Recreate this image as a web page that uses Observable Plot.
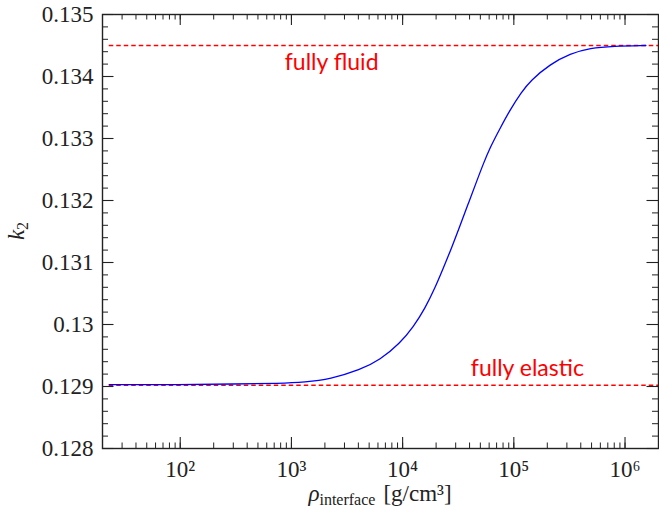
<!DOCTYPE html>
<html>
<head>
<meta charset="utf-8">
<script src="https://cdn.jsdelivr.net/npm/d3@7"></script>
<script src="https://cdn.jsdelivr.net/npm/@observablehq/plot@0.6"></script>
<style>
  html, body { margin: 0; padding: 0; background: white; }
</style>
</head>
<body>
<div id="chart"></div>
<script>
// ---- data ----
const rho = [23, 100, 300, 793, 1320, 2234, 4159, 6266, 9487, 12480, 15890, 19550, 23220, 27620, 32800, 38930, 46330, 53110, 60960, 74970, 92260, 117500, 140300, 212400, 321400, 486000, 783000, 1540000];
const k2  = [0.12903, 0.12903, 0.12904, 0.12905, 0.12907, 0.12912, 0.12927, 0.12943, 0.12970, 0.12996, 0.13026, 0.13059, 0.13091, 0.13124, 0.13159, 0.13195, 0.13231, 0.13259, 0.13285, 0.13316, 0.13346, 0.13375, 0.13393, 0.13420, 0.13437, 0.13446, 0.13449, 0.13450];
const kFluid = 0.1345;
const kElastic = 0.12902;
const limitLabels = ["fully fluid", "fully elastic"];
const limitLabelX = [2300, 132400];
const limitLabelY = [0.13422, 0.12929];
const yMajor = [0.128, 0.129, 0.130, 0.131, 0.132, 0.133, 0.134, 0.135];
const xMajor = [1e2, 1e3, 1e4, 1e5, 1e6];
const xDomain = [20, 2e6];
const yDomain = [0.128, 0.135];

// tick helpers
const yMinor = d3.range(0, 36).map(i => +(0.128 + i * 0.0002).toFixed(5));
const xMinor = [];
for (let e = 1; e <= 6; e++) for (let m = 1; m <= 9; m++) {
  const v = m * Math.pow(10, e);
  if (v >= xDomain[0] && v <= xDomain[1]) xMinor.push(v);
}
const sup = {"0":"⁰","1":"¹","2":"²","3":"³","4":"⁴","5":"⁵","6":"⁶","7":"⁷","8":"⁸","9":"⁹"};
const fmtPow = d => "10" + String(Math.round(Math.log10(d))).split("").map(c => sup[c]).join("");

const curve = rho.map((r, i) => ({r, k: k2[i]}));
const labels = limitLabels.map((t, i) => ({t, x: limitLabelX[i], y: limitLabelY[i]}));

const W = 659, H = 518;
const mL = 102, mR = 1, mT = 14, mB = 70;
const pw = W - mL - mR, ph = H - mT - mB;
const ink = "#222";
const serif = "'Liberation Serif'";

const chart = Plot.plot({
  width: W, height: H,
  marginLeft: mL, marginRight: mR, marginTop: mT, marginBottom: mB,
  x: {type: "log", domain: xDomain},
  y: {domain: yDomain},
  style: {fontSize: "22px", color: ink, background: "white"},
  marks: [
    Plot.ruleY([kFluid], {x1: 23, x2: 2e6, stroke: "red", strokeWidth: 1.3, strokeDasharray: "4.5,3"}),
    Plot.ruleY([kElastic], {x1: 23, x2: 2e6, stroke: "red", strokeWidth: 1.3, strokeDasharray: "4.5,3"}),
    Plot.line(curve, {x: "r", y: "k", stroke: "#0000ff", strokeWidth: 1.3, curve: "basis"}),
    Plot.text(labels, {x: "x", y: "y", text: "t", fill: "red", fontSize: 23, textAnchor: "middle"}),
    // inward ticks
    Plot.tickY(yMinor, {y: d => d, insetRight: pw - 6, stroke: ink, strokeWidth: 1}),
    Plot.tickY(yMinor, {y: d => d, insetLeft: pw - 6, stroke: ink, strokeWidth: 1}),
    Plot.tickY(yMajor, {y: d => d, insetRight: pw - 11.5, stroke: ink, strokeWidth: 1.1}),
    Plot.tickY(yMajor, {y: d => d, insetLeft: pw - 11.5, stroke: ink, strokeWidth: 1.1}),
    Plot.tickX(xMinor, {x: d => d, insetTop: ph - 5.5, stroke: ink, strokeWidth: 1}),
    Plot.tickX(xMinor, {x: d => d, insetBottom: ph - 5.5, stroke: ink, strokeWidth: 1}),
    Plot.tickX(xMajor, {x: d => d, insetTop: ph - 11, stroke: ink, strokeWidth: 1.1}),
    Plot.tickX(xMajor, {x: d => d, insetBottom: ph - 11, stroke: ink, strokeWidth: 1.1}),
    Plot.frame({stroke: ink, strokeWidth: 1.4}),
    Plot.axisY(yMajor, {tickSize: 0, tickPadding: 9, tickFormat: d => String(+d.toFixed(3)), label: null, fontSize: 23}),
    Plot.axisX(xMajor, {tickSize: 0, tickPadding: 12, tickFormat: fmtPow, label: null, fontSize: 23})
  ]
});

document.getElementById("chart").appendChild(chart);

// fonts: set inline on every text element
d3.select(chart).selectAll("text").each(function() {
  const t = this.textContent;
  this.style.fontFamily = limitLabels.includes(t) ? "Lato" : serif;
});

// axis titles with sub/superscripts
const svg = d3.select(chart);
const xc = mL + pw / 2, yc = mT + ph / 2;
const xt = svg.append("text")
  .attr("x", xc).attr("y", 501)
  .attr("text-anchor", "middle")
  .attr("fill", ink)
  .style("font-family", serif)
  .style("font-size", "23px");
xt.append("tspan").style("font-style", "italic").text("ρ");
xt.append("tspan").attr("dy", 4).style("font-size", "16px").text("interface");
xt.append("tspan").attr("dy", -4).attr("dx", 8).text("[g/cm³]");

const yt = svg.append("text")
  .attr("transform", `translate(19,${yc}) rotate(-90)`)
  .attr("text-anchor", "middle")
  .attr("dominant-baseline", "middle")
  .attr("fill", ink)
  .style("font-family", serif)
  .style("font-size", "23px");
yt.append("tspan").style("font-style", "italic").text("k");
yt.append("tspan").attr("dy", 5).style("font-size", "16px").text("2");
</script>
</body>
</html>
